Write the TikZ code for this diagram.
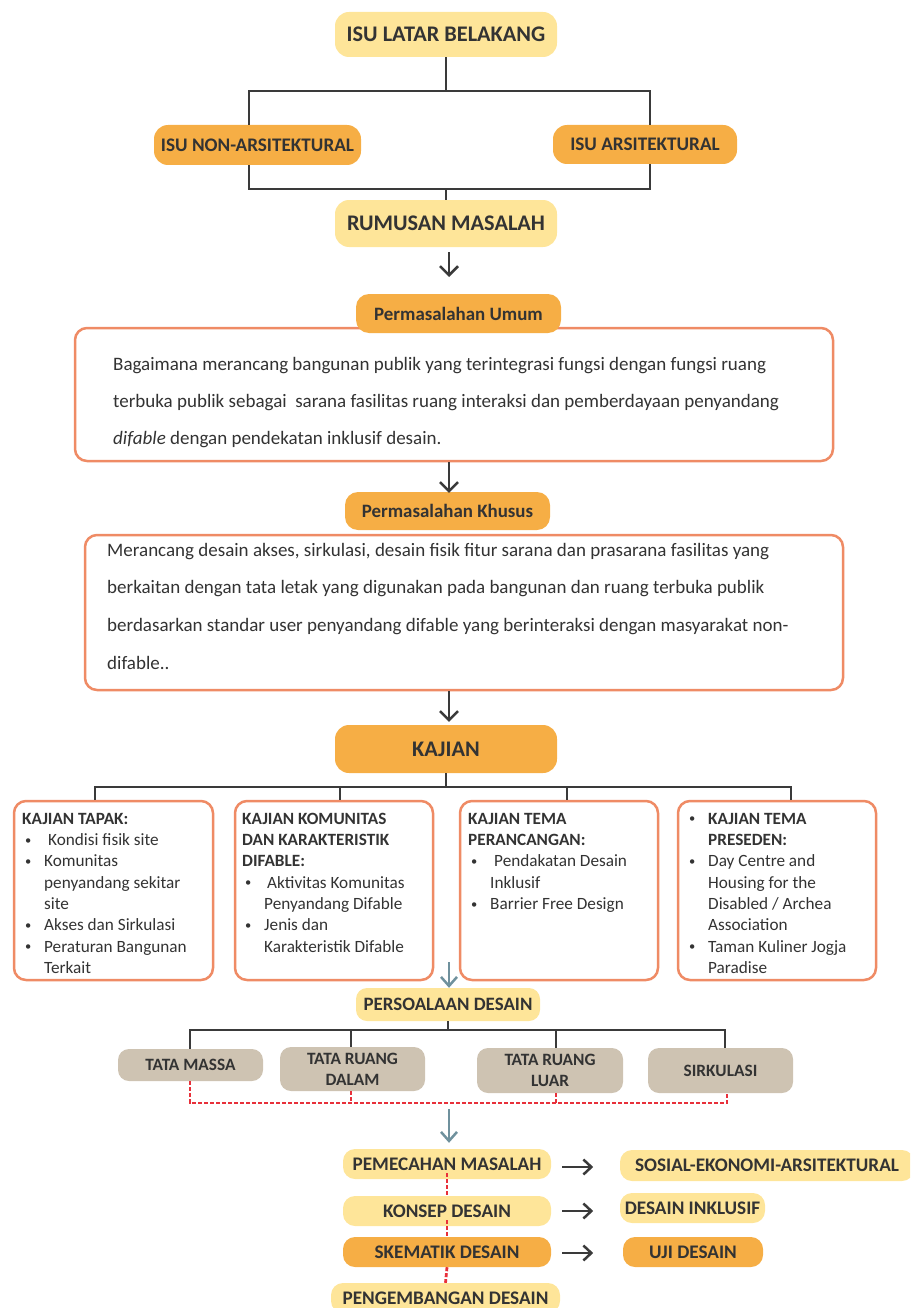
\documentclass[tikz,border=0pt]{standalone}
\usepackage{fontspec}
\setmainfont{Carlito}
\usetikzlibrary{arrows.meta}
\definecolor{lyel}{HTML}{FEE599}
\definecolor{orng}{HTML}{F6AE45}
\definecolor{salm}{HTML}{EF8B65}
\definecolor{gbox}{HTML}{CEC3B2}
\definecolor{txt}{HTML}{333333}
\definecolor{ln}{HTML}{3A3A3A}
\definecolor{bgr}{HTML}{6F919D}
\definecolor{rdd}{HTML}{E8303A}
\newcommand\fs[2]{\fontsize{#1}{#2}\selectfont}
\newcommand\tstrut[1]{\rule{0pt}{#1pt}}
\newcommand\bul{\makebox[22pt][l]{\hspace{3pt}\raisebox{1.3pt}{\fs{12.5}{12}•}}}
\newcommand\ind{\makebox[22pt]{}}
\tikzset{
  pill/.style={rounded corners=14pt, inner sep=0pt, text=txt, align=center},
  yel/.style={pill, fill=lyel},
  org/.style={pill, fill=orng},
  gry/.style={pill, fill=gbox, rounded corners=11pt},
  frame/.style={draw=salm, line width=2.5pt, rounded corners=12pt, fill=white, inner sep=0pt},
  conn/.style={draw=ln, line width=2.8pt},
  darr/.style={draw=ln, line width=2.5pt, -{Straight Barb[length=9pt,width=18pt]}},
  rarr/.style={draw=ln, line width=2.5pt, -{Straight Barb[length=8pt,width=15pt]}},
  barr/.style={draw=bgr, line width=2.5pt, -{Straight Barb[length=9pt,width=16pt]}},
  reddash/.style={draw=rdd, line width=2.8pt, dash pattern=on 4pt off 2pt},
  body/.style={anchor=north west, inner sep=0pt, align=left, text=txt},
  ktext/.style={anchor=north west, inner sep=0pt, align=left, text=txt, font=\fs{17.2}{21.3}},
  big/.style={font=\bfseries\fs{22.3}{24}},
  mid/.style={font=\bfseries\fs{19.2}{21}},
  sml/.style={font=\bfseries\fs{18.9}{20}},
  tat/.style={font=\bfseries\fs{17.3}{21}},
}
\begin{document}
\begin{tikzpicture}[x=1pt,y=-1pt]
\useasboundingbox (0,0) rectangle (910,1308);
\clip (0,0) rectangle (910,1308);

% ---------- top ----------
\node[yel, big, minimum width=222pt, minimum height=45pt] (isu) at (446,34.5) {ISU LATAR BELAKANG};
\node[org, mid, minimum width=207pt, minimum height=40pt] (nonar) at (257.5,145) {ISU NON-ARSITEKTURAL};
\node[org, mid, minimum width=184pt, minimum height=39pt] (arsi) at (645,144.5) {ISU ARSITEKTURAL};
\node[yel, big, minimum width=222pt, minimum height=47pt] (rum) at (446,223.5) {RUMUSAN MASALAH};

\coordinate (b1) at (249,91);
\coordinate (b2) at (650,91);
\coordinate (c1) at (249,189);
\coordinate (c2) at (650,189);
\draw[conn] (isu.south) -- (isu.south |- b1);
\draw[conn] (nonar.north -| b1) -- (b1) -- (b2) -- (arsi.north -| b2);
\draw[conn] (nonar.south -| c1) -- (c1) -- (c2) -- (arsi.south -| c2);
\draw[conn] (rum.north) -- (rum.north |- c1);

% ---------- permasalahan umum ----------
\node[frame, minimum width=758pt, minimum height=133pt] (pbox1) at (454,394.5) {};
\node[org, sml, rounded corners=13pt, minimum width=205pt, minimum height=39pt] (pu) at (458.5,313.5) {Permasalahan Umum};
\node[body, font=\fs{19}{37}] (t1) at (113,355) {\tstrut{15}Bagaimana merancang bangunan publik yang terintegrasi fungsi dengan fungsi ruang\\
terbuka publik sebagai~ sarana fasilitas ruang interaksi dan pemberdayaan penyandang\\
\textit{difable} dengan pendekatan inklusif desain.};

\coordinate (a1) at (449,252);
\draw[darr] (a1) -- ++(0,25);

% ---------- permasalahan khusus ----------
\node[frame, minimum width=758pt, minimum height=155pt] (pbox2) at (464,612.5) {};
\node[org, sml, rounded corners=13pt, minimum width=205pt, minimum height=38pt] (pk) at (447.5,511) {Permasalahan Khusus};
\node[body, font=\fs{19}{37.7}] (t2) at (107,541) {\tstrut{15}Merancang desain akses, sirkulasi, desain fisik fitur sarana dan prasarana fasilitas yang\\
berkaitan dengan tata letak yang digunakan pada bangunan dan ruang terbuka publik\\
berdasarkan standar user penyandang difable yang berinteraksi dengan masyarakat non-\\
difable..};

\draw[darr] (pbox1.south -| a1) -- ([yshift=-1pt]pk.north -| a1);

% ---------- kajian ----------
\node[org, big, minimum width=222pt, minimum height=48pt] (kaj) at (446,749) {KAJIAN};
\draw[darr] (pbox2.south -| a1) -- ([yshift=3pt]kaj.north -| a1);

\node[frame, minimum width=199pt, minimum height=179pt] (k1) at (113.5,890.5) {};
\node[frame, minimum width=198pt, minimum height=179pt] (k2) at (334,890.5) {};
\node[frame, minimum width=198pt, minimum height=179pt] (k3) at (559,890.5) {};
\node[frame, minimum width=198pt, minimum height=179pt] (k4) at (777,890.5) {};

\coordinate (kb) at (446,787);
\coordinate (q1) at (95,787);
\coordinate (q2) at (340,787);
\coordinate (q3) at (567,787);
\coordinate (q4) at (791,787);
\draw[conn] (kaj.south) -- (kb);
\draw[conn] (k1.north -| q1) -- (q1) -- (q4) -- (k4.north -| q4);
\draw[conn] (q2) -- (k2.north -| q2);
\draw[conn] (q3) -- (k3.north -| q3);

\node[ktext] (k1t) at (22,812) {\tstrut{12}\textbf{KAJIAN TAPAK:}\\
\bul\hspace{4pt}Kondisi fisik site\\
\bul Komunitas\\
\ind penyandang sekitar\\
\ind site\\
\bul Akses dan Sirkulasi\\
\bul Peraturan Bangunan\\
\ind Terkait};
\node[ktext] (k2t) at (242,812) {\tstrut{12}\textbf{KAJIAN KOMUNITAS}\\
\textbf{DAN KARAKTERISTIK}\\
\textbf{DIFABLE:}\\
\bul\hspace{3pt}Aktivitas Komunitas\\
\ind Penyandang Difable\\
\bul Jenis dan\\
\ind Karakteristik Difable};
\node[ktext] (k3t) at (468,812) {\tstrut{12}\textbf{KAJIAN TEMA}\\
\textbf{PERANCANGAN:}\\
\bul\hspace{4pt}Pendakatan Desain\\
\ind Inklusif\\
\bul Barrier Free Design};
\node[ktext] (k4t) at (686,812) {\tstrut{12}\bul\textbf{KAJIAN TEMA}\\
\ind\textbf{PRESEDEN:}\\
\bul Day Centre and\\
\ind Housing for the\\
\ind Disabled / Archea\\
\ind Association\\
\bul Taman Kuliner Jogja\\
\ind Paradise};

% ---------- persoalan desain ----------
\node[yel, sml, rounded corners=11pt, minimum width=184pt, minimum height=33pt] (persoal) at (448,1004.5) {PERSOALAAN DESAIN};
\coordinate (ba) at (449,962);
\draw[barr] (ba) -- (ba |- persoal.north);

\node[gry, tat, minimum width=145pt, minimum height=32pt] (tm) at (190.5,1065) {TATA MASSA};
\node[gry, tat, minimum width=145pt, minimum height=44pt] (trd) at (352.5,1069) {TATA RUANG\\DALAM};
\node[gry, tat, minimum width=146pt, minimum height=45pt] (trl) at (550,1070.5) {TATA RUANG\\LUAR};
\node[gry, tat, minimum width=145pt, minimum height=45pt] (sirk) at (720.5,1070.5) {SIRKULASI};

\coordinate (pb) at (448,1030);
\coordinate (p1) at (190,1030);
\coordinate (p2) at (351,1030);
\coordinate (p3) at (556,1030);
\coordinate (p4) at (725,1030);
\draw[conn, line width=2.5pt] (persoal.south) -- (pb);
\draw[conn, line width=2.5pt] (tm.north -| p1) -- (p1) -- (p4) -- (sirk.north -| p4);
\draw[conn, line width=2.5pt] (p2) -- (trd.north -| p2);
\draw[conn, line width=2.5pt] (p3) -- (trl.north -| p3);

\coordinate (r1) at (190,1103);
\coordinate (r4) at (727,1103);
\draw[reddash] (tm.south -| r1) -- (r1) -- (r4) -- (sirk.south -| r4);
\draw[reddash] (trd.south -| p2) -- (p2 |- r1);
\draw[reddash] (trl.south -| p3) -- (p3 |- r1);

% ---------- bottom ----------
\node[yel, mid, rounded corners=12pt, minimum width=208pt, minimum height=30pt] (pem) at (447,1164) {PEMECAHAN MASALAH};
\node[yel, mid, rounded corners=12pt, minimum width=208pt, minimum height=30pt] (kon) at (447,1211) {KONSEP DESAIN};
\node[org, mid, rounded corners=12pt, minimum width=208pt, minimum height=30pt] (skem) at (447,1252) {SKEMATIK DESAIN};
\node[yel, mid, rounded corners=12pt, minimum width=229pt, minimum height=30pt] (peng) at (445.5,1298) {PENGEMBANGAN DESAIN};
\node[yel, mid, rounded corners=12pt, minimum width=294pt, minimum height=31pt] (sos) at (767,1165.5) {SOSIAL-EKONOMI-ARSITEKTURAL};
\node[yel, mid, rounded corners=12pt, minimum width=145pt, minimum height=30pt] (di) at (692.5,1208) {DESAIN INKLUSIF};
\node[org, mid, rounded corners=12pt, minimum width=140pt, minimum height=30pt] (uji) at (693,1252) {UJI DESAIN};

\coordinate (bb) at (449,1109);
\draw[barr, shorten >=6pt] (bb) -- (bb |- pem.north);

\draw[reddash] ([yshift=6pt]pem.south) -- (kon.north);
\draw[reddash] ([yshift=6pt]kon.south) -- (skem.north);
\draw[reddash] (skem.south) -- (peng.north);

\draw[rarr] ([shift={(11,3)}]pem.east) -- ++(31,0);
\draw[rarr] ([shift={(11,0)}]kon.east) -- ++(31,0);
\draw[rarr] ([shift={(11,1)}]skem.east) -- ++(31,0);
\end{tikzpicture}
\end{document}
